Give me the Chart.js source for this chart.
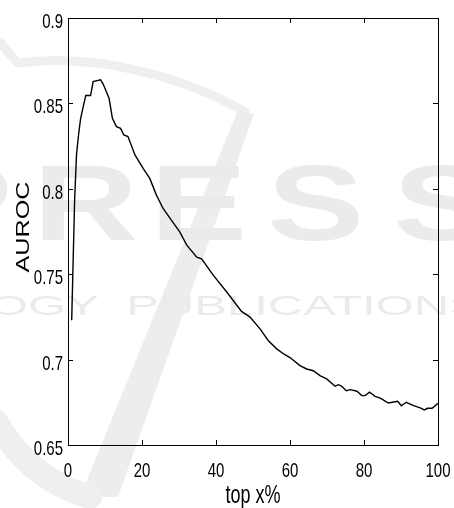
<!DOCTYPE html>
<html>
<head>
<meta charset="utf-8">
<script src="https://cdn.jsdelivr.net/npm/chart.js@4"></script>
<style>
  html, body { margin: 0; padding: 0; background: #fff; }
  #wrap { width: 454px; height: 508px; }
</style>
</head>
<body>
<div id="wrap"><canvas id="aurocChart"></canvas></div>
<script>
// values
const topX = [1.0, 1.8, 2.3, 2.9, 3.4, 4.1, 4.8, 6.1, 6.8, 8.8, 9.5, 11.1, 12.0, 13.1, 14.2, 15.1, 16.2, 18.1,
  20.3, 22.1, 23.9, 25.7, 27.5, 30.2, 32.1, 34.8, 36.1, 39.3, 42.9, 46.9, 49.2, 51.9, 54.1, 56.4, 58.5, 60.0,
  62.7, 64.5, 66.3, 68.1, 69.9, 72.2, 73.1, 74.0, 75.2, 76.3, 78.1, 79.4, 80.3, 81.5, 83.0, 84.4, 86.6,
  89.1, 90.1, 91.4, 93.4, 95.2, 96.3, 97.2, 98.4, 100];
const auroc = [0.723, 0.794, 0.820, 0.8325, 0.841, 0.848, 0.8546, 0.8546, 0.8628, 0.8638, 0.8613, 0.853, 0.8413,
  0.8364, 0.8354, 0.8315, 0.8306, 0.8198, 0.812, 0.8061, 0.7963, 0.7885, 0.783, 0.7748, 0.767, 0.760, 0.759,
  0.7493, 0.7396, 0.7282, 0.7249, 0.718, 0.7112, 0.7063, 0.703, 0.7012, 0.6965, 0.6945, 0.6935, 0.6906,
  0.6887, 0.6844, 0.6853, 0.6844, 0.6818, 0.6824, 0.6815, 0.6789, 0.6789, 0.6809, 0.6785, 0.6775, 0.6746,
  0.6756, 0.673, 0.675, 0.673, 0.6717, 0.6705, 0.6715, 0.6715, 0.6744];
const xTicks = [0, 20, 40, 60, 80, 100];
const yTicks = [0.65, 0.7, 0.75, 0.8, 0.85, 0.9];
const xTitle = 'top x%';
const yTitle = 'AUROC';

const fontFamily = '"Liberation Sans", Arial, Helvetica, sans-serif';
const stretchY = 1.4; // the figure's text is drawn tall and narrow

// faint publisher watermark behind the plot
const watermark = {
  id: 'watermark',
  beforeDraw(chart) {
    const c = chart.ctx;
    c.save();
    c.fillStyle = '#ededed';
    c.strokeStyle = '#efefef';
    c.lineCap = 'round';
    // swoosh
    c.lineWidth = 9;
    c.beginPath();
    c.moveTo(0, 42);
    c.quadraticCurveTo(10, 55, 18, 63);
    c.bezierCurveTo(100, 52, 190, 80, 245, 112);
    c.stroke();
    c.beginPath();
    c.moveTo(238, 110); c.lineTo(254, 114); c.lineTo(118, 497); c.lineTo(80, 497);
    c.closePath();
    c.fill();
    c.lineWidth = 24;
    c.beginPath();
    c.moveTo(-5, 420);
    c.quadraticCurveTo(30, 480, 90, 497);
    c.stroke();

    c.fillStyle = '#ebebeb';
    c.font = 'bold 108px ' + fontFamily;
    [['P', -85], ['R', 33], ['E', 150], ['S', 267], ['S', 393]].forEach(([ch, x]) => {
      c.save();
      c.translate(x, 240);
      c.scale(1.35, 1);
      c.fillText(ch, 0, 0);
      c.restore();
    });
    c.font = '28px ' + fontFamily;
    c.save();
    c.translate(-10, 315);
    c.scale(1.75, 1);
    c.fillText('OGY  PUBLICATIONS', 0, 0);
    c.restore();
    c.restore();
  }
};

// matlab style box, inward ticks on all four sides, tall tick labels
const boxTicks = {
  id: 'boxTicks',
  afterDraw(chart) {
    const c = chart.ctx;
    const a = chart.chartArea;
    const xs = chart.scales.x, ys = chart.scales.y;
    const len = 5;
    c.save();
    c.strokeStyle = '#000';
    c.lineWidth = 1;
    c.strokeRect(Math.round(a.left) + 0.5, Math.round(a.top) + 0.5,
      Math.round(a.right - a.left), Math.round(a.bottom - a.top));
    c.beginPath();
    xTicks.forEach(v => {
      const px = Math.round(xs.getPixelForValue(v)) + 0.5;
      c.moveTo(px, a.bottom); c.lineTo(px, a.bottom - len);
      c.moveTo(px, a.top); c.lineTo(px, a.top + len);
    });
    yTicks.forEach(v => {
      const py = Math.round(ys.getPixelForValue(v)) + 0.5;
      c.moveTo(a.left, py); c.lineTo(a.left + len, py);
      c.moveTo(a.right, py); c.lineTo(a.right - len, py);
    });
    c.stroke();

    c.fillStyle = '#000';
    c.textBaseline = 'alphabetic';
    c.font = '15px ' + fontFamily;
    c.textAlign = 'right';
    yTicks.forEach(v => {
      c.save();
      c.translate(a.left - 5, ys.getPixelForValue(v) + 10);
      c.scale(1, stretchY);
      c.fillText(String(v), 0, 0);
      c.restore();
    });
    c.textAlign = 'center';
    xTicks.forEach(v => {
      c.save();
      c.translate(xs.getPixelForValue(v), a.bottom + 32);
      c.scale(1, stretchY);
      c.fillText(String(v), 0, 0);
      c.restore();
    });

    c.font = '18px ' + fontFamily;
    c.save();
    c.translate((a.left + a.right) / 2, 503);
    c.scale(1, stretchY);
    c.fillText(xTitle, 0, 0);
    c.restore();
    c.save();
    c.translate(28.5, 227);
    c.scale(1, stretchY);
    c.rotate(-Math.PI / 2);
    c.fillText(yTitle, 0, 0);
    c.restore();
    c.restore();
  }
};

const ctx = document.getElementById('aurocChart');
const myChart = new Chart(ctx, {
  type: 'line',
  data: {
    datasets: [{
      data: topX.map((x, i) => ({ x: x, y: auroc[i] })),
      borderColor: '#000',
      borderWidth: 1.4,
      pointRadius: 0,
      tension: 0,
      fill: false
    }]
  },
  options: {
    responsive: true,
    maintainAspectRatio: false,
    animation: false,
    layout: { padding: { top: 18, right: 16, left: 0, bottom: 0 } },
    plugins: { legend: { display: false }, tooltip: { enabled: false } },
    scales: {
      x: {
        type: 'linear',
        min: 0, max: 100,
        afterBuildTicks: s => { s.ticks = xTicks.map(v => ({ value: v })); },
        afterFit: s => { s.height = 63; },
        grid: { display: false },
        border: { display: false },
        ticks: { display: false }
      },
      y: {
        min: 0.65, max: 0.9,
        afterBuildTicks: s => { s.ticks = yTicks.map(v => ({ value: v })); },
        afterFit: s => { s.width = 68; },
        grid: { display: false },
        border: { display: false },
        ticks: { display: false }
      }
    }
  },
  plugins: [watermark, boxTicks]
});
</script>
</body>
</html>
